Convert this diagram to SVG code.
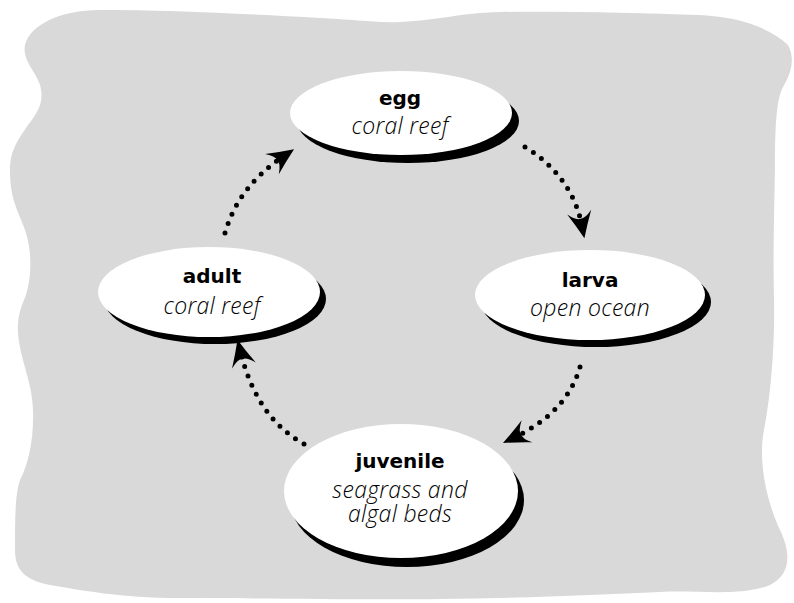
<svg xmlns="http://www.w3.org/2000/svg" width="794" height="603" viewBox="0 0 794 603">
<defs>
<style>
.bg{fill:#d9d9d9;}
.shadow{fill:#000;}
.node{fill:#fff;}
.title{font-family:"DejaVu Sans","Liberation Sans",sans-serif;font-weight:bold;font-size:20px;text-anchor:middle;fill:#000;}
.sub{font-family:"Open Sans","Liberation Sans",sans-serif;font-weight:300;font-style:italic;font-size:23px;letter-spacing:0.3px;text-anchor:middle;fill:#000;}
.conn{fill:none;stroke:#000;stroke-width:5;stroke-linecap:round;stroke-dasharray:0 10;}
</style>
<marker id="arrow" markerUnits="userSpaceOnUse" orient="auto" markerWidth="40" markerHeight="40" viewBox="-20 -15 36 30" refX="0" refY="0" overflow="visible">
<path d="M12,0 Q0,-5 -12,-11 Q-5,-4 -6,0 Q-5,4 -12,11 Q0,5 12,0 Z" fill="#000"/>
</marker>
</defs>
<path class="bg" d="M25,45 C30,25 60,10 100,10 C170,10 250,14 320,18 C360,20 380,23 400,22 C440,20 460,13 500,12 C560,11 640,13 700,15 C740,17 770,28 788,45 C796,60 790,75 783,87 C776,100 775,130 775,167 C774,220 773,260 774,300 C775,350 770,400 764,430 C758,460 766,500 780,530 C792,555 790,575 770,585 C740,597 700,590 660,592 C600,595 520,598 440,599 C360,600 250,598 180,598 C120,598 80,590 50,585 C25,580 15,570 15,550 C15,520 15,495 20,480 C28,465 34,440 33,410 C32,380 20,360 18,333 C17,315 22,305 26,295 C32,275 32,250 25,230 C18,210 10,200 10,170 C10,150 18,140 28,125 C40,110 44,100 40,85 C35,70 22,60 25,45 Z"/>
<g id="connectors">
<path class="conn" d="M225,233 Q238,187 283,156.6" marker-end="url(#arrow)"/>
<path class="conn" d="M525,147 Q572,176 581.8,225.2" marker-end="url(#arrow)"/>
<path class="conn" d="M580,367 Q567,412 515,437.1" marker-end="url(#arrow)"/>
<path class="conn" d="M304,444 Q257,418 240.7,352.6" marker-end="url(#arrow)"/>
</g>
<g id="egg">
<ellipse class="shadow" cx="408" cy="121" rx="111" ry="42"/>
<ellipse class="node" cx="401" cy="113" rx="111" ry="42"/>
<text class="title" x="400" y="105">egg</text>
<text class="sub" x="400" y="134">coral reef</text>
</g>
<g id="larva">
<ellipse class="shadow" cx="596" cy="302" rx="115" ry="45"/>
<ellipse class="node" cx="590" cy="295" rx="115" ry="45"/>
<text class="title" x="590" y="287">larva</text>
<text class="sub" x="590" y="316">open ocean</text>
</g>
<g id="juvenile">
<ellipse class="shadow" cx="407" cy="500" rx="117" ry="67"/>
<ellipse class="node" cx="401" cy="491" rx="117" ry="67"/>
<text class="title" x="400" y="468">juvenile</text>
<text class="sub" x="400" y="498"><tspan x="400">seagrass and</tspan><tspan x="400" dy="24">algal beds</tspan></text>
</g>
<g id="adult">
<ellipse class="shadow" cx="215" cy="299" rx="111" ry="45"/>
<ellipse class="node" cx="209" cy="292" rx="111" ry="45"/>
<text class="title" x="212" y="283">adult</text>
<text class="sub" x="212" y="314">coral reef</text>
</g>
</svg>
